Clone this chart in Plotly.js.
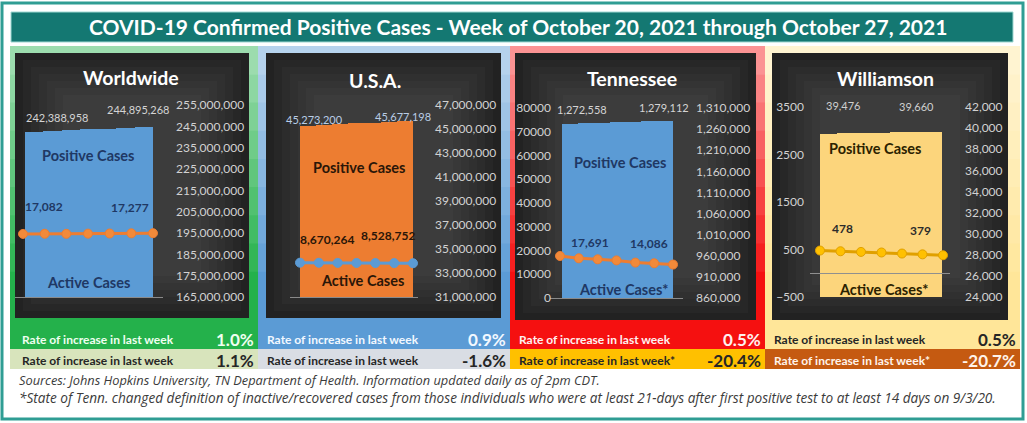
<!DOCTYPE html>
<html><head><meta charset="utf-8">
<script src="https://cdn.plot.ly/plotly-3.0.1.min.js"></script>
<style>html,body{margin:0;padding:0;background:#fff}#chart{width:1027px;height:423px}</style>
</head><body><div id="chart"></div>
<script>
// ---------------- data ----------------
const mainTitle = 'COVID-19 Confirmed Positive Cases - Week of October 20, 2021 through October 27, 2021';
const days = ['Oct 21','Oct 22','Oct 23','Oct 24','Oct 25','Oct 26','Oct 27'];
const regionNames = ['Worldwide','U.S.A.','Tennessee','Williamson'];
const worldPositive = [242388958, 242771305, 243190417, 243552860, 243938126, 244402511, 244895268];
const worldActive   = [17082, 17131, 17104, 17158, 17196, 17233, 17277];
const usaPositive   = [45273200, 45349620, 45418377, 45463002, 45531877, 45609544, 45677198];
const usaActive     = [8670264, 8652100, 8619450, 8604210, 8577630, 8559880, 8528752];
const tnPositive    = [1272558, 1273655, 1274702, 1275980, 1277031, 1278090, 1279112];
const tnActive      = [17691, 16712, 16280, 15830, 14905, 14620, 14086];
const wcPositive    = [39476, 39503, 39529, 39561, 39596, 39631, 39660];
const wcActive      = [478, 463, 449, 437, 415, 398, 379];
const positiveLabel = 'Positive Cases';
const activeLabels  = ['Active Cases','Active Cases','Active Cases*','Active Cases*'];
const rateLabels1   = ['Rate of increase in last week','Rate of increase in last week','Rate of increase in last week','Rate of increase in last week'];
const rateLabels2   = ['Rate of increase in last week','Rate of increase in last week','Rate of increase in last week*','Rate of increase in last week*'];
const positiveRates = ['1.0%','0.9%','0.5%','0.5%'];
const activeRates   = ['1.1%','-1.6%','-20.4%','-20.7%'];
const footnotes = [
  'Sources: Johns Hopkins University, TN Department of Health. Information updated daily as of 2pm CDT.',
  '*State of Tenn. changed definition of inactive/recovered cases from those individuals who were at least 21-days after first positive test to at least 14 days on 9/3/20.'
];
const positiveSeries = [worldPositive, usaPositive, tnPositive, wcPositive];
const activeSeries = [worldActive, usaActive, tnActive, wcActive];

// ---------------- layout / style ----------------
const W = 1027, H = 423;
const X = p => p / W, Y = p => 1 - p / H;
const FONT = 'Lato, "Open Sans", "Liberation Sans", sans-serif';
const FOOT_FONT = '"Open Sans", Lato, sans-serif';

const P = [
 {fL:10,fR:258,dL:15,dR:249,dT:53,dB:318,axL:15,axR:163,bL:25,bR:153,mL:23,mR:153,yT:105,yB:297,rPos:175,lPos:null,
  bRange:[165e6,255e6],bDt:10e6,lRange:[0,52000],lDt:null,zero:false,axisLine:true,
  barC:'#5b9bd5',lineC:'#ed7d31',markC:'#f28a3a',inC:'#1f3864',actC:'#1f3864',bLblC:'#d4d4d4',
  title:[131,77],posTxt:[88,155],actTxt:[88,282],bLbl:[[23,14],[-6,17]],aLbl:[[21,27],[-23,26]],
  r1:'#24b14b',r1t:'#effff0',r2:'#d8e4bc',r2t:'#262626'},
 {fL:258,fR:510,dL:266,dR:501,dT:53,dB:318,axL:290,axR:418,bL:300,bR:413,mL:300,mR:413,yT:105,yB:297,rPos:434,lPos:null,
  bRange:[31e6,47e6],bDt:2e6,lRange:[0,48.5e6],lDt:null,zero:false,axisLine:true,
  barC:'#ed7d31',lineC:'#5b9bd5',markC:'#5b9bd5',inC:'#2a1608',actC:'#2a1608',bLblC:'#b9cde6',
  title:[375,80],posTxt:[359,167],actTxt:[362,280],bLbl:[[6,6],[-2,4]],aLbl:[[27,23],[-25,28]],
  r1:'#5b9bd5',r1t:'#f2f8ff',r2:'#d9dde4',r2t:'#262626'},
 {fL:510,fR:765,dL:515,dR:756,dT:53,dB:320,axL:550,axR:683,bL:562,bR:673,mL:560,mR:673,yT:108,yB:298,rPos:695,lPos:551,
  bRange:[860000,1310000],bDt:50000,lRange:[0,80000],lDt:10000,zero:false,axisLine:true,
  barC:'#5b9bd5',lineC:'#ed7d31',markC:'#f28a3a',inC:'#1f3864',actC:'#1f3864',bLblC:'#d4d4d4',
  title:[632,78],posTxt:[620,162],actTxt:[623,289],bLbl:[[12,14],[-1,14]],aLbl:[[30,13],[-24,21]],
  r1:'#f51010',r1t:'#fff0f0',r2:'#ffc000',r2t:'#262626'},
 {fL:765,fR:1020,dL:772,dR:1008,dT:53,dB:320,axL:810,axR:950,bL:820,bR:942,mL:820,mR:943,yT:107,yB:297,rPos:964,lPos:804,
  bRange:[24000,42000],bDt:2000,lRange:[-500,3500],lDt:1000,zero:true,axisLine:false,
  barC:'#fcd57c',lineC:'#e0a000',markC:'#ffc000',inC:'#2b2200',actC:'#2b2b2b',bLblC:'#cfcfcf',
  title:[885,79],posTxt:[875,148],actTxt:[883,289],bLbl:[[14,28],[-17,25]],aLbl:[[22,22],[-23,25]],
  r1:'#ffe699',r1t:'#262626',r2:'#c55a11',r2t:'#fff3ea'}
];

function mix(hex, t){
  const r=parseInt(hex.slice(1,3),16),g=parseInt(hex.slice(3,5),16),b=parseInt(hex.slice(5,7),16);
  const f=c=>Math.round(c+(255-c)*t);
  return 'rgb('+f(r)+','+f(g)+','+f(b)+')';
}
const fmt = v => v.toLocaleString('en-US');
const rect = (x0,y0,x1,y1,fill,extra) => Object.assign({type:'rect',xref:'paper',yref:'paper',x0:X(x0),x1:X(x1),y0:Y(y1),y1:Y(y0),fillcolor:fill,line:{width:0},layer:'below'},extra||{});
const txt = (x,y,text,size,color,extra) => Object.assign({xref:'paper',yref:'paper',x:X(x),y:Y(y),text:text,showarrow:false,
  xanchor:'center',yanchor:'middle',font:{size:size,color:color,family:FONT}},extra||{});

const traces=[], shapes=[], annotations=[];
const layout = {width:W,height:H,margin:{l:0,r:0,t:0,b:0},paper_bgcolor:'#ffffff',plot_bgcolor:'rgba(0,0,0,0)',
  showlegend:false,bargap:0,font:{family:FONT},shapes:shapes,annotations:annotations};

// outer frame and banner
shapes.push(rect(2,3,1023,419,'#ffffff',{line:{color:'#2f9d94',width:3}}));
shapes.push(rect(11,12,1013,42,'#147872',{line:{color:'#9fd8d2',width:1}}));
annotations.push(txt(518,27,'<b>'+mainTitle+'</b>',21,'#ffffff'));

const n = days.length;
const key = (a,k) => a + (k===1?'':k);
P.forEach((p,i)=>{
  // frame with vertical gradient
  const bands=9, top=46, bot=300, step=(bot-top)/bands;
  for(let k=0;k<bands;k++){
    shapes.push(rect(p.fL, top+k*step, p.fR, top+(k+1)*step+0.6, mix(p.r1, 0.55*(1-k/(bands-1)))));
  }
  shapes.push(rect(p.fL, bot, p.fR, 349, p.r1));
  shapes.push(rect(p.fL, 349, p.fR, 369, p.r2));
  // dark panel with soft vignette
  shapes.push(rect(p.dL,p.dT,p.dR,p.dB,'#222222'));
  for(let k=1;k<=6;k++){
    shapes.push(rect(p.dL+k*8,p.dT+k*7,p.dR-k*8,p.dB-k*7,'rgba(255,255,255,0.022)'));
  }
  const bi=2*i+1, li=2*i+2;
  const bu=(p.bR-p.bL)/n, mu=(p.mR-p.mL)/(n-1);
  layout[key('xaxis',bi)] = {domain:[X(p.axL),X(p.axR)],type:'category',range:[-0.5-(p.bL-p.axL)/bu, n-0.5+(p.axR-p.bR)/bu],
    anchor:key('y',bi),showline:p.axisLine,linecolor:'#8a8a8a',linewidth:1,showticklabels:false,ticks:'',showgrid:false,zeroline:false,fixedrange:true};
  layout[key('xaxis',li)] = {domain:[X(p.axL),X(p.axR)],type:'category',range:[-(p.mL-p.axL)/mu, n-1+(p.axR-p.mR)/mu],
    anchor:key('y',li),showline:false,showticklabels:false,ticks:'',showgrid:false,zeroline:false,fixedrange:true};
  layout[key('yaxis',bi)] = {domain:[Y(p.yB),Y(p.yT)],range:p.bRange,dtick:p.bDt,tick0:p.bRange[0],anchor:'free',position:X(p.rPos),side:'right',
    tickformat:',d',tickfont:{size:12,color:'#d2d2d2',family:FONT},showgrid:false,zeroline:false,showline:false,ticks:'',fixedrange:true};
  const ly = {domain:[Y(p.yB),Y(p.yT)],range:p.lRange,showgrid:false,showline:false,ticks:'',fixedrange:true,
    zeroline:p.zero,zerolinecolor:'#8f8f8f',zerolinewidth:1};
  if(p.lPos!==null){
    Object.assign(ly,{anchor:'free',position:X(p.lPos),side:'left',dtick:p.lDt,tick0:p.lRange[0],tickformat:'d',
      tickfont:{size:12,color:'#d2d2d2',family:FONT}});
  } else {
    Object.assign(ly,{showticklabels:false});
  }
  layout[key('yaxis',li)] = ly;

  const pos=positiveSeries[i], act=activeSeries[i];
  traces.push({type:'bar',x:days,y:pos,xaxis:key('x',bi),yaxis:key('y',bi),width:1,marker:{color:p.barC,line:{width:0}},hoverinfo:'skip'});
  traces.push({type:'scatter',mode:'lines+markers',x:days,y:act,xaxis:key('x',li),yaxis:key('y',li),cliponaxis:false,
    line:{color:p.lineC,width:3},marker:{color:p.markC,size:9,line:{color:p.lineC,width:1}},hoverinfo:'skip'});

  // data labels
  [0,n-1].forEach((j,q)=>{
    annotations.push({xref:key('x',bi),yref:key('y',bi),x:days[j],y:pos[j],text:fmt(pos[j]),showarrow:false,xanchor:'center',yanchor:'middle',
      xshift:p.bLbl[q][0],yshift:p.bLbl[q][1],font:{size:11,color:p.bLblC,family:FONT}});
    annotations.push({xref:key('x',li),yref:key('y',li),x:days[j],y:act[j],text:'<b>'+fmt(act[j])+'</b>',showarrow:false,xanchor:'center',yanchor:'middle',
      xshift:p.aLbl[q][0],yshift:p.aLbl[q][1],font:{size:12,color:p.actC,family:FONT}});
  });
  // in-chart labels
  annotations.push(txt(p.title[0],p.title[1],'<b>'+regionNames[i]+'</b>',19.5,'#ffffff'));
  annotations.push(txt(p.posTxt[0],p.posTxt[1],'<b>'+positiveLabel+'</b>',14.5,p.inC));
  annotations.push(txt(p.actTxt[0],p.actTxt[1],'<b>'+activeLabels[i]+'</b>',14.5,p.inC));
  // rate rows
  const lx = p.fL + (i===0?10:7);
  annotations.push(txt(lx,339,'<b>'+rateLabels1[i]+'</b>',12,p.r1t,{xanchor:'left'}));
  annotations.push(txt(p.fR-2,339,'<b>'+positiveRates[i]+'</b>',17,p.r1t,{xanchor:'right'}));
  annotations.push(txt(lx,360,'<b>'+rateLabels2[i]+'</b>',12,p.r2t,{xanchor:'left'}));
  annotations.push(txt(p.fR-2,360,'<b>'+activeRates[i]+'</b>',17,p.r2t,{xanchor:'right'}));
});

annotations.push(txt(17,380,'<i>'+footnotes[0]+'</i>',12.8,'#3b3b3b',{xanchor:'left',font:{size:12.8,color:'#3b3b3b',family:FOOT_FONT}}));
annotations.push(txt(17,397,'<i>'+footnotes[1]+'</i>',13.6,'#3b3b3b',{xanchor:'left',font:{size:13.6,color:'#3b3b3b',family:FOOT_FONT}}));

Plotly.newPlot('chart',traces,layout,{staticPlot:true,displayModeBar:false});
</script></body></html>
